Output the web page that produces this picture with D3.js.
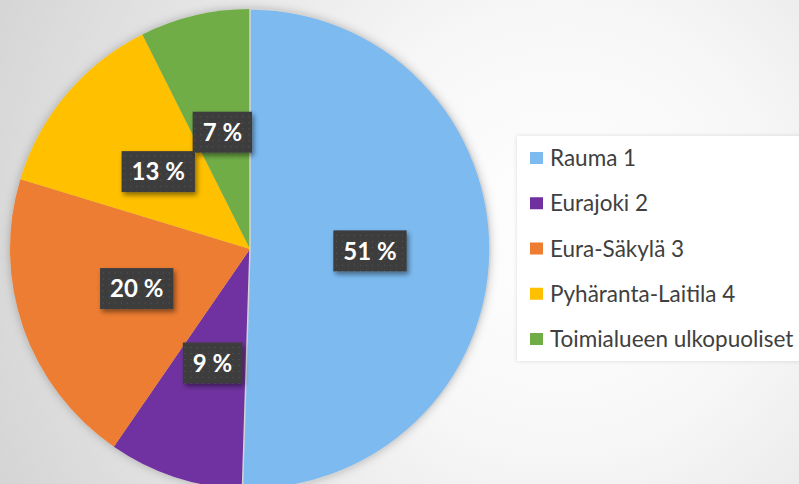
<!DOCTYPE html>
<html>
<head>
<meta charset="utf-8">
<script src="https://cdn.jsdelivr.net/npm/d3@7"></script>
<style>
  body { margin: 0; overflow: hidden; }
  svg { display: block; }
</style>
</head>
<body>
<div id="chart"></div>
<script>
const W = 799, H = 484;

// data
const categories = ["Rauma 1", "Eurajoki 2", "Eura-Säkylä 3", "Pyhäranta-Laitila 4", "Toimialueen ulkopuoliset"];
const shares = [50.5, 9.1, 20.1, 12.9, 7.4];
const labels = ["51 %", "9 %", "20 %", "13 %", "7 %"];
const colors = ["#7cbaf0", "#7030a0", "#ed7d31", "#ffc000", "#70ad47"];

const rows = categories.map((c, i) => ({ name: c, value: shares[i], label: labels[i], color: colors[i] }));

const svg = d3.select("#chart").append("svg")
    .attr("width", W)
    .attr("height", H);

const defs = svg.append("defs");

// soft background
const bg = defs.append("radialGradient")
    .attr("id", "bg")
    .attr("gradientUnits", "userSpaceOnUse")
    .attr("cx", 560).attr("cy", 230).attr("r", 620);
bg.append("stop").attr("offset", "0%").attr("stop-color", "#ffffff");
bg.append("stop").attr("offset", "35%").attr("stop-color", "#f7f7f7");
bg.append("stop").attr("offset", "100%").attr("stop-color", "#d4d4d4");

svg.append("rect").attr("width", W).attr("height", H).attr("fill", "url(#bg)");

// shadows
const pieShadow = defs.append("filter").attr("id", "pieShadow")
    .attr("x", "-10%").attr("y", "-10%").attr("width", "120%").attr("height", "120%");
pieShadow.append("feDropShadow")
    .attr("dx", 0).attr("dy", 0).attr("stdDeviation", 5)
    .attr("flood-color", "#000").attr("flood-opacity", 0.25);

const boxShadow = defs.append("filter").attr("id", "boxShadow")
    .attr("x", "-30%").attr("y", "-30%").attr("width", "160%").attr("height", "170%");
boxShadow.append("feDropShadow")
    .attr("dx", 2).attr("dy", 3).attr("stdDeviation", 2.5)
    .attr("flood-color", "#000").attr("flood-opacity", 0.45);

const legShadow = defs.append("filter").attr("id", "legShadow")
    .attr("x", "-10%").attr("y", "-10%").attr("width", "120%").attr("height", "120%");
legShadow.append("feDropShadow")
    .attr("dx", 0).attr("dy", 0).attr("stdDeviation", 2)
    .attr("flood-color", "#000").attr("flood-opacity", 0.12);

// dotted fill for the label boxes
const dots = defs.append("pattern").attr("id", "dots")
    .attr("patternUnits", "userSpaceOnUse").attr("width", 6).attr("height", 6);
dots.append("rect").attr("width", 6).attr("height", 6).attr("fill", "#3e3e3e");
dots.append("rect").attr("x", 2).attr("y", 2).attr("width", 1).attr("height", 1).attr("fill", "#5a5a5a");

// pie
const cx = 250, cy = 249, R = 240;

const pie = d3.pie().value(d => d.value).sort(null);
const arc = d3.arc().innerRadius(0).outerRadius(R);
const arcs = pie(rows);

const g = svg.append("g").attr("transform", `translate(${cx},${cy})`);

g.append("g")
    .attr("filter", "url(#pieShadow)")
    .selectAll("path")
    .data(arcs)
    .enter()
    .append("path")
    .attr("d", arc)
    .attr("fill", d => d.data.color);

// thin light edge on the big slice
g.append("path")
    .attr("d", arc(arcs[0]))
    .attr("fill", "none")
    .attr("stroke", "#d4d4d4")
    .attr("stroke-width", 1.5);

// data labels
const lab = g.selectAll(".lab")
    .data(arcs)
    .enter()
    .append("g")
    .attr("class", "lab")
    .attr("transform", d => `translate(${arc.centroid(d)})`);

lab.each(function(d) {
    const el = d3.select(this);
    const box = el.append("rect").attr("fill", "url(#dots)").attr("filter", "url(#boxShadow)");
    const t = el.append("text")
        .attr("text-anchor", "middle")
        .attr("dy", "0.36em")
        .style("font-family", "Lato, 'Open Sans', sans-serif")
        .style("font-weight", "bold")
        .style("font-size", "24px")
        .style("fill", "#ffffff")
        .text(d.data.label);
    const bb = t.node().getBBox();
    const bw = bb.width + 20, bh = 41;
    box.attr("x", -bw / 2).attr("y", -bh / 2).attr("width", bw).attr("height", bh);
});

// legend
const legend = svg.append("g");
legend.append("rect")
    .attr("x", 517).attr("y", 136)
    .attr("width", 300).attr("height", 225)
    .attr("fill", "#ffffff")
    .attr("filter", "url(#legShadow)");

const ly = d3.scalePoint().domain(categories).range([158, 339]);

const item = legend.selectAll(".item")
    .data(rows)
    .enter()
    .append("g")
    .attr("class", "item")
    .attr("transform", d => `translate(530,${ly(d.name)})`);

item.append("rect")
    .attr("x", 0).attr("y", -6)
    .attr("width", 13).attr("height", 12)
    .attr("fill", d => d.color);

item.append("text")
    .attr("x", 20)
    .attr("dy", "0.36em")
    .style("font-family", "Lato, 'Open Sans', sans-serif")
    .style("font-size", "22.5px")
    .style("fill", "#404040")
    .text(d => d.name);
</script>
</body>
</html>
